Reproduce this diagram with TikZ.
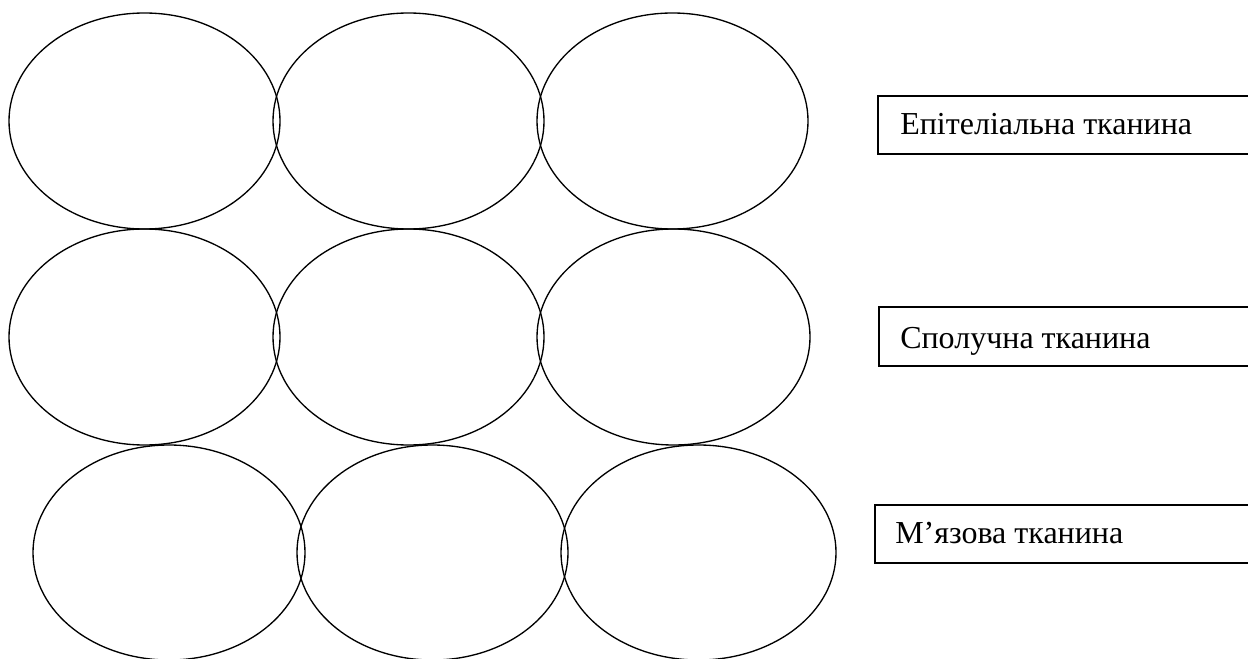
\documentclass[tikz,border=0pt]{standalone}
\usepackage{fontspec}
\setmainfont{Liberation Serif}
\begin{document}
\begin{tikzpicture}[x=0.75pt,y=-0.75pt,
  cell/.style={draw=black,line width=1pt},
  labelbox/.style={draw=black,line width=1.2pt},
  labeltext/.style={anchor=base west,inner sep=0pt,font=\fontsize{24}{28}\selectfont}]
\useasboundingbox (0,0) rectangle (1248,659);
\clip (0,0) rectangle (1248,659);
% first row of cells
\draw[cell] (144.5,121) ellipse [x radius=135.5,y radius=108];
\draw[cell] (408.5,121) ellipse [x radius=135.5,y radius=108];
\draw[cell] (672.5,121) ellipse [x radius=135.5,y radius=108];
% second row of cells
\draw[cell] (144.5,337) ellipse [x radius=135.5,y radius=108];
\draw[cell] (408.5,337) ellipse [x radius=135.5,y radius=108];
\draw[cell] (673.5,337) ellipse [x radius=136.5,y radius=108];
% third row of cells
\draw[cell] (169,552.5) ellipse [x radius=136,y radius=107.5];
\draw[cell] (432.5,552.5) ellipse [x radius=135.5,y radius=107.5];
\draw[cell] (698.5,552.5) ellipse [x radius=137.5,y radius=107.5];
% label boxes, running past the right edge
\draw[labelbox] (1260,96) -- (878,96) -- (878,154) -- (1260,154);
\draw[labelbox] (1260,307) -- (879,307) -- (879,366) -- (1260,366);
\draw[labelbox] (1260,505) -- (875,505) -- (875,563) -- (1260,563);
\node[labeltext] (epit) at (900,135) {Епітеліальна тканина};
\node[labeltext] (spol) at (900,348) {Сполучна тканина};
\node[labeltext] (myaz) at (895,543) {М’язова тканина};
\end{tikzpicture}
\end{document}
